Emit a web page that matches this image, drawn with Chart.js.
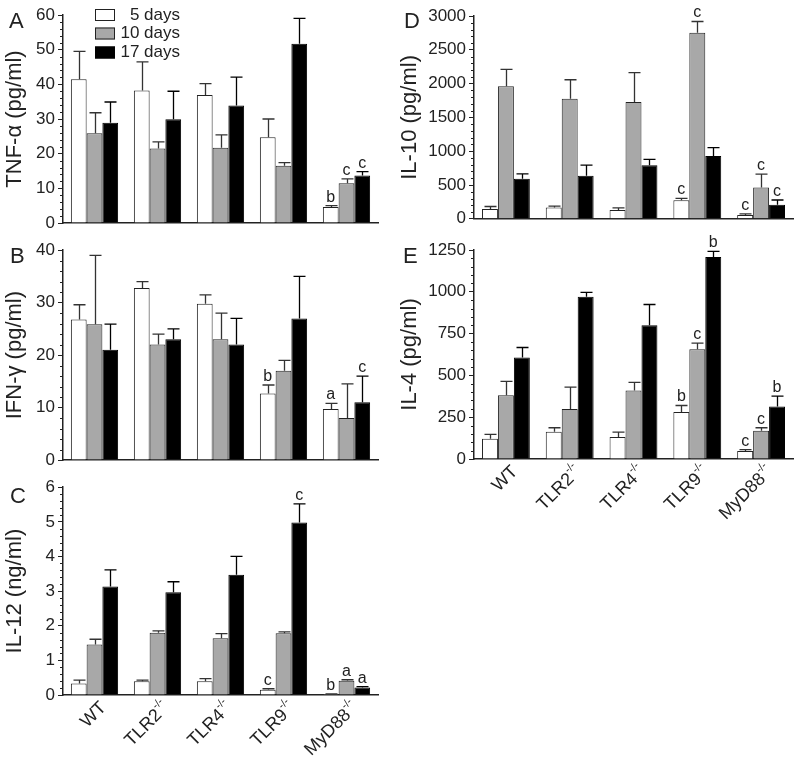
<!DOCTYPE html>
<html>
<head>
<meta charset="utf-8">
<script src="https://cdn.jsdelivr.net/npm/chart.js@4.4.0/dist/chart.umd.min.js"></script>
<style>
  html, body { margin: 0; padding: 0; background: #fff; }
  #fig { position: relative; width: 800px; height: 770px; overflow: hidden; }
  #fig canvas { position: absolute; }
</style>
</head>
<body>
<div id="fig">
  <canvas id="cA" width="390" height="237" style="left:0;top:0"></canvas>
  <canvas id="cB" width="390" height="237" style="left:0;top:237px"></canvas>
  <canvas id="cC" width="390" height="296" style="left:0;top:474px"></canvas>
  <canvas id="cD" width="405" height="232" style="left:395px;top:0"></canvas>
  <canvas id="cE" width="405" height="318" style="left:395px;top:232px"></canvas>
</div>
<script>
// ── Data ─────────────────────────────────────────────────────────────────────
const groups      = ["WT", "TLR2", "TLR4", "TLR9", "MyD88"];
const groupSup    = ["", "-/-", "-/-", "-/-", "-/-"];
const seriesNames = ["5 days", "10 days", "17 days"];

// A: TNF-α (pg/ml)
const tnf5     = [41.5, 38.2, 36.9, 24.7, 4.6];
const tnf10    = [25.9, 21.5, 21.7, 16.5, 11.5];
const tnf17    = [28.9, 29.9, 33.9, 51.7, 13.7];
const tnf5Err  = [8.0, 8.3, 3.3, 5.3, 0.4];
const tnf10Err = [5.9, 1.9, 3.7, 0.9, 1.2];
const tnf17Err = [6.0, 8.1, 8.2, 7.3, 1.1];
const tnf5Sig  = ["", "", "", "", "b"];
const tnf10Sig = ["", "", "", "", "c"];
const tnf17Sig = ["", "", "", "", "c"];

// B: IFN-γ (pg/ml)
const ifn5     = [26.8, 32.8, 29.8, 12.7, 9.7];
const ifn10    = [25.9, 22, 23, 17, 8];
const ifn17    = [21, 23, 22, 27, 11];
const ifn5Err  = [2.8, 1.2, 1.7, 1.6, 1.1];
const ifn10Err = [13.1, 2, 5, 2, 6.5];
const ifn17Err = [4.9, 2, 5, 8, 5];
const ifn5Sig  = ["", "", "", "b", "a"];
const ifn10Sig = ["", "", "", "", ""];
const ifn17Sig = ["", "", "", "", "c"];

// C: IL-12 (ng/ml)
const il12d5     = [0.33, 0.40, 0.40, 0.15, 0.03];
const il12d10    = [1.46, 1.80, 1.64, 1.78, 0.41];
const il12d17    = [3.13, 2.97, 3.47, 4.98, 0.22];
const il12d5Err  = [0.10, 0.03, 0.07, 0.03, 0.005];
const il12d10Err = [0.15, 0.05, 0.13, 0.04, 0.03];
const il12d17Err = [0.48, 0.30, 0.53, 0.54, 0.02];
const il12d5Sig  = ["", "", "", "c", "b"];
const il12d10Sig = ["", "", "", "", "a"];
const il12d17Sig = ["", "", "", "c", "a"];

// D: IL-10 (pg/ml)
const il10d5     = [144, 167, 130, 273, 57];
const il10d10    = [1962, 1775, 1727, 2751, 464];
const il10d17    = [593, 636, 794, 928, 206];
const il10d5Err  = [38, 20, 33, 28, 15];
const il10d10Err = [249, 282, 436, 168, 196];
const il10d17Err = [72, 158, 86, 125, 72];
const il10d5Sig  = ["", "", "", "c", "c"];
const il10d10Sig = ["", "", "", "c", "c"];
const il10d17Sig = ["", "", "", "", "c"];

// E: IL-4 (pg/ml)
const il4d5     = [121, 163, 131, 281, 48];
const il4d10    = [382, 299, 410, 657, 169];
const il4d17    = [607, 971, 800, 1208, 314];
const il4d5Err  = [26, 24, 30, 39, 8];
const il4d10Err = [82, 131, 48, 36, 18];
const il4d17Err = [60, 26, 124, 34, 62];
const il4d5Sig  = ["", "", "", "b", "c"];
const il4d10Sig = ["", "", "", "c", "c"];
const il4d17Sig = ["", "", "", "b", "b"];

// ── Styling ──────────────────────────────────────────────────────────────────
const FONT = "'Liberation Sans', Arial, Helvetica, sans-serif";
const INK  = "#222";
const FILLS   = ["#ffffff", "#a8a8a8", "#000000"];
const BORDERS = ["#222222", "#222222", "#000000"];

// ── Extras: minor ticks, error bars, letters, legend, x labels ──────────────
function extrasPlugin(p) {
  return {
    id: "extras",
    afterDraw(chart) {
      const ctx = chart.ctx;
      const ys = chart.scales.y, xs = chart.scales.x;
      const area = chart.chartArea;
      ctx.save();

      // minor ticks on y axis
      ctx.strokeStyle = INK;
      ctx.lineWidth = 1;
      const n = Math.round(p.max / p.minor);
      const every = Math.round(p.step / p.minor);
      for (let k = 0; k <= n; k++) {
        if (k % every === 0) continue;
        const py = Math.round(ys.getPixelForValue(k * p.minor)) + 0.5;
        ctx.beginPath();
        ctx.moveTo(area.left - 3, py);
        ctx.lineTo(area.left, py);
        ctx.stroke();
      }

      // error bars + significance letters
      chart.data.datasets.forEach((ds, di) => {
        const meta = chart.getDatasetMeta(di);
        meta.data.forEach((bar, i) => {
          const v = ds.data[i];
          const top = ys.getPixelForValue(v + p.errs[di][i]);
          const base = ys.getPixelForValue(v);
          const bx = Math.round(bar.x) + 0.5;
          ctx.strokeStyle = di === 2 ? "#000" : "#333";
          ctx.lineWidth = 1.3;
          ctx.beginPath();
          ctx.moveTo(bx, base);
          ctx.lineTo(bx, top);
          ctx.moveTo(bx - 6, top);
          ctx.lineTo(bx + 6, top);
          ctx.stroke();
          const s = p.sigs[di][i];
          if (s) {
            ctx.fillStyle = INK;
            ctx.font = `16px ${FONT}`;
            ctx.textAlign = "center";
            ctx.textBaseline = "alphabetic";
            ctx.fillText(s, bar.x, top - 4);
          }
        });
      });

      // panel letter
      ctx.fillStyle = INK;
      ctx.font = `22px ${FONT}`;
      ctx.textAlign = "left";
      ctx.textBaseline = "alphabetic";
      ctx.fillText(p.letter, p.letterPos[0], p.letterPos[1]);

      // legend (panel A only)
      if (p.legend) {
        const rows = [15, 33.5, 52.5];
        ctx.font = `17px ${FONT}`;
        ctx.textBaseline = "middle";
        ctx.textAlign = "right";
        seriesNames.forEach((name, i) => {
          ctx.fillStyle = FILLS[i];
          ctx.fillRect(95, rows[i] - 6, 20, 12);
          ctx.strokeStyle = BORDERS[i];
          ctx.lineWidth = 1;
          ctx.strokeRect(95.5, rows[i] - 5.5, 19, 11);
          ctx.fillStyle = INK;
          ctx.fillText(name, 180, rows[i]);
        });
      }

      // rotated group labels with superscript
      if (p.xLabels) {
        groups.forEach((g, i) => {
          const cx = xs.getPixelForValue(i);
          ctx.save();
          ctx.translate(cx + 9, area.bottom + 10);
          ctx.rotate(-Math.PI / 4);
          ctx.fillStyle = INK;
          ctx.textBaseline = "middle";
          ctx.textAlign = "left";
          ctx.font = `11px ${FONT}`;
          const wSup = ctx.measureText(groupSup[i]).width;
          ctx.font = `18px ${FONT}`;
          const wMain = ctx.measureText(g).width;
          ctx.fillText(g, -wSup - wMain, 0);
          ctx.font = `11px ${FONT}`;
          ctx.fillText(groupSup[i], -wSup, -7);
          ctx.restore();
        });
      }
      ctx.restore();
    },
  };
}

// ── Panel builder ────────────────────────────────────────────────────────────
function renderPanel(p) {
  const ctx = document.getElementById(p.id).getContext("2d");
  return new Chart(ctx, {
    type: "bar",
    data: {
      labels: groups,
      datasets: p.vals.map((vals, i) => ({
        label:           seriesNames[i],
        data:            vals,
        backgroundColor: FILLS[i],
        borderColor:     BORDERS[i],
        borderWidth:     1,
        barPercentage:   1,
        categoryPercentage: 0.75,
      })),
    },
    options: {
      responsive: false,
      animation: false,
      layout: { padding: p.pad },
      plugins: { legend: { display: false }, tooltip: { enabled: false } },
      scales: {
        x: {
          grid:   { display: false, drawTicks: false },
          border: { display: true, color: INK, width: 1.5 },
          ticks:  { display: false },
          afterFit: s => { s.height = 0; },
        },
        y: {
          min: 0,
          max: p.max,
          grid:   { drawOnChartArea: false, drawTicks: true, tickLength: 5, color: INK, tickColor: INK, lineWidth: 1 },
          border: { display: true, color: INK, width: 1.5 },
          ticks:  { stepSize: p.step, color: INK, padding: 3, font: { family: FONT, size: 17 }, callback: v => String(v) },
          title:  { display: true, text: p.title, color: INK, padding: { top: 2, bottom: 0 }, font: { family: FONT, size: 22 } },
          afterFit: s => { s.width = p.yWidth; },
        },
      },
    },
    plugins: [extrasPlugin(p)],
  });
}

renderPanel({
  id: "cA", letter: "A", letterPos: [9, 28], title: "TNF-α (pg/ml)",
  max: 60, step: 10, minor: 2, yWidth: 63,
  pad: { top: 15, right: 12, bottom: 14, left: 0 },
  vals: [tnf5, tnf10, tnf17], errs: [tnf5Err, tnf10Err, tnf17Err], sigs: [tnf5Sig, tnf10Sig, tnf17Sig],
  legend: true, xLabels: false,
});
renderPanel({
  id: "cB", letter: "B", letterPos: [10, 26], title: "IFN-γ (pg/ml)",
  max: 40, step: 10, minor: 2, yWidth: 63,
  pad: { top: 12, right: 12, bottom: 14, left: 0 },
  vals: [ifn5, ifn10, ifn17], errs: [ifn5Err, ifn10Err, ifn17Err], sigs: [ifn5Sig, ifn10Sig, ifn17Sig],
  legend: false, xLabels: false,
});
renderPanel({
  id: "cC", letter: "C", letterPos: [10, 29], title: "IL-12 (ng/ml)",
  max: 6, step: 1, minor: 0.2, yWidth: 63,
  pad: { top: 11, right: 12, bottom: 75, left: 0 },
  vals: [il12d5, il12d10, il12d17], errs: [il12d5Err, il12d10Err, il12d17Err], sigs: [il12d5Sig, il12d10Sig, il12d17Sig],
  legend: false, xLabels: true,
});
renderPanel({
  id: "cD", letter: "D", letterPos: [9, 28], title: "IL-10 (pg/ml)",
  max: 3000, step: 500, minor: 100, yWidth: 79,
  pad: { top: 16, right: 7, bottom: 7, left: 0 },
  vals: [il10d5, il10d10, il10d17], errs: [il10d5Err, il10d10Err, il10d17Err], sigs: [il10d5Sig, il10d10Sig, il10d17Sig],
  legend: false, xLabels: false,
});
renderPanel({
  id: "cE", letter: "E", letterPos: [8, 31], title: "IL-4 (pg/ml)",
  max: 1250, step: 250, minor: 50, yWidth: 79,
  pad: { top: 18, right: 7, bottom: 91, left: 0 },
  vals: [il4d5, il4d10, il4d17], errs: [il4d5Err, il4d10Err, il4d17Err], sigs: [il4d5Sig, il4d10Sig, il4d17Sig],
  legend: false, xLabels: true,
});
</script>
</body>
</html>
